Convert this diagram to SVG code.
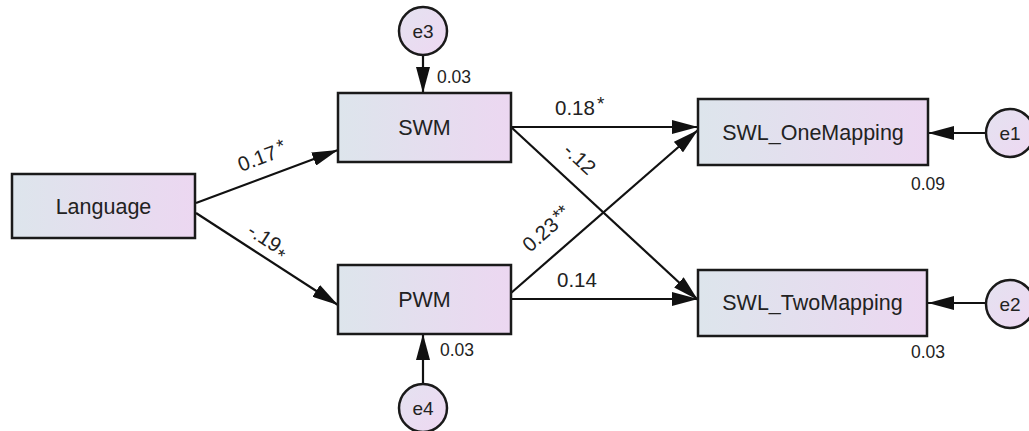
<svg xmlns="http://www.w3.org/2000/svg" width="1029" height="431" viewBox="0 0 1029 431">
<defs>
<linearGradient id="boxg" x1="0" y1="0" x2="1" y2="0">
<stop offset="0" stop-color="#dde5ec"/>
<stop offset="1" stop-color="#ecd7f1"/>
</linearGradient>
<linearGradient id="circg" x1="0" y1="0" x2="1" y2="1">
<stop offset="0" stop-color="#e4e2f0"/>
<stop offset="1" stop-color="#eed8f2"/>
</linearGradient>
<marker id="ah" viewBox="0 0 26 14" refX="26" refY="7" markerWidth="26" markerHeight="14" orient="auto" markerUnits="userSpaceOnUse">
<path d="M0,0 L26,7 L0,14 z" fill="#111"/>
</marker>
</defs>
<style>
.box{fill:url(#boxg);stroke:#1a1a1a;stroke-width:2.5}
.circ{fill:url(#circg);stroke:#1a1a1a;stroke-width:2.5}
.lbl{font-family:"Liberation Sans",Arial,sans-serif;font-size:21.5px;fill:#222;text-anchor:middle}
.elbl{font-family:"Liberation Sans",Arial,sans-serif;font-size:19px;fill:#222;text-anchor:middle}
.small{font-family:"Liberation Sans",Arial,sans-serif;font-size:17.5px;fill:#222}
.coef{font-family:"Liberation Sans",Arial,sans-serif;font-size:20.5px;fill:#222}
.star{font-size:19px}
.conn line{stroke:#111;stroke-width:2.2;marker-end:url(#ah)}
</style>
<rect width="1029" height="431" fill="#ffffff"/>

<g id="connectors" class="conn">
<line x1="196" y1="203" x2="338" y2="150"/>
<line x1="196" y1="213" x2="338" y2="305"/>
<line x1="511" y1="127" x2="698" y2="127"/>
<line x1="511" y1="127" x2="698" y2="300"/>
<line x1="511" y1="293" x2="698" y2="130"/>
<line x1="511" y1="299" x2="698" y2="299"/>
<line x1="423" y1="55" x2="423" y2="93"/>
<line x1="423" y1="384" x2="423" y2="334"/>
<line x1="986" y1="133" x2="928" y2="133"/>
<line x1="986" y1="303" x2="928" y2="303"/>
</g>

<g id="Language">
<rect class="box" x="12" y="174" width="183" height="64"/>
<text class="lbl" x="103.5" y="213.5">Language</text>
</g>
<g id="SWM">
<rect class="box" x="338" y="93" width="173" height="69"/>
<text class="lbl" x="424.5" y="135">SWM</text>
<text class="small" x="437" y="83">0.03</text>
</g>
<g id="PWM">
<rect class="box" x="338" y="265" width="173" height="69"/>
<text class="lbl" x="424.5" y="307">PWM</text>
<text class="small" x="440" y="356">0.03</text>
</g>
<g id="SWL_OneMapping">
<rect class="box" x="698" y="99" width="230" height="66"/>
<text class="lbl" x="813" y="140">SWL_OneMapping</text>
<text class="small" x="911" y="190">0.09</text>
</g>
<g id="SWL_TwoMapping">
<rect class="box" x="698" y="270" width="229" height="66"/>
<text class="lbl" x="812.5" y="310">SWL_TwoMapping</text>
<text class="small" x="911" y="358">0.03</text>
</g>
<g id="e3">
<circle class="circ" cx="423" cy="31" r="24"/>
<text class="elbl" x="423" y="37.5">e3</text>
</g>
<g id="e4">
<circle class="circ" cx="423" cy="408" r="24"/>
<text class="elbl" x="423" y="414.5">e4</text>
</g>
<g id="e1">
<circle class="circ" cx="1010" cy="133" r="24"/>
<text class="elbl" x="1010" y="139.5">e1</text>
</g>
<g id="e2">
<circle class="circ" cx="1010" cy="304" r="24"/>
<text class="elbl" x="1010" y="310.5">e2</text>
</g>

<g id="path-labels">
<text class="coef" x="241" y="172" transform="rotate(-20.6 241 172)">0.17<tspan class="star" dx="3" dy="-4">*</tspan></text>
<text class="coef" x="246" y="234" transform="rotate(33 246 234)">-.19<tspan class="star" dx="1" dy="6">*</tspan></text>
<text class="coef" x="555" y="115">0.18<tspan class="star" dx="2" dy="-5">*</tspan></text>
<text class="coef" x="562" y="152" transform="rotate(43 562 152)">-.12</text>
<text class="coef" x="530" y="253" transform="rotate(-41.4 530 253)">0.23<tspan class="star" dx="2" dy="-3">**</tspan></text>
<text class="coef" x="557" y="287">0.14</text>
</g>
</svg>
